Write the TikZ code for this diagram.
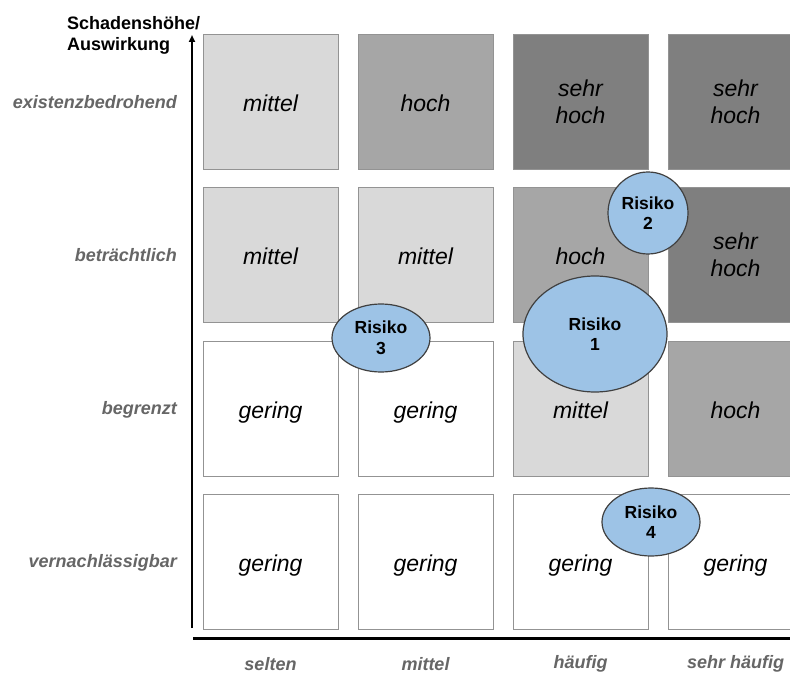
\documentclass[tikz,border=0pt]{standalone}
\usepackage{fontspec}
\setmainfont{Liberation Sans}
\usetikzlibrary{arrows.meta,shapes.geometric}

\definecolor{lvGering}{HTML}{FFFFFF}
\definecolor{lvMittel}{HTML}{D9D9D9}
\definecolor{lvHoch}{HTML}{A6A6A6}
\definecolor{lvSehrHoch}{HTML}{7F7F7F}
\definecolor{cellEdge}{HTML}{939393}
\definecolor{axisText}{HTML}{666666}
\definecolor{riskFill}{HTML}{9DC3E6}
\definecolor{riskEdge}{HTML}{404040}

\tikzset{
  cell/.style={rectangle, draw=cellEdge, line width=0.9pt,
    minimum width=135pt, minimum height=135pt, inner sep=0pt,
    align=center, font=\fontsize{23}{27}\selectfont\itshape},
  oneline/.style={text height=19pt, text depth=0pt},
  gering/.style={cell, oneline, fill=lvGering},
  mittel/.style={cell, oneline, fill=lvMittel},
  hoch/.style={cell, oneline, fill=lvHoch},
  sehrhoch/.style={cell, fill=lvSehrHoch},
  risk/.style={ellipse, draw=riskEdge, line width=1.2pt, fill=riskFill,
    inner sep=0pt, align=center,
    font=\fontsize{17.5}{20.5}\selectfont\bfseries},
  rowlabel/.style={anchor=east, text=axisText, inner sep=0pt,
    text height=13pt, text depth=0pt,
    font=\fontsize{18}{21}\selectfont\bfseries\itshape},
  collabel/.style={anchor=center, text=axisText, inner sep=0pt,
    font=\fontsize{18}{21}\selectfont\bfseries\itshape},
  axisline/.style={draw=black, line width=2pt},
}

\begin{document}
\begin{tikzpicture}[x=1pt,y=-1pt]
  \clip (0,0) rectangle (790,677);
  \fill[white] (0,0) rectangle (790,677);

  % risk matrix, rows from top (existenzbedrohend) to bottom
  \node[mittel]   (c11) at (270.5,101.5) {mittel};
  \node[hoch]     (c12) at (425.5,101.5) {hoch};
  \node[sehrhoch] (c13) at (580.5,101.5) {sehr\\hoch};
  \node[sehrhoch] (c14) at (735.5,101.5) {sehr\\hoch};

  \node[mittel]   (c21) at (270.5,254.5) {mittel};
  \node[mittel]   (c22) at (425.5,254.5) {mittel};
  \node[hoch]     (c23) at (580.5,254.5) {hoch};
  \node[sehrhoch] (c24) at (735.5,254.5) {sehr\\hoch};

  \node[gering]   (c31) at (270.5,408.5) {gering};
  \node[gering]   (c32) at (425.5,408.5) {gering};
  \node[mittel]   (c33) at (580.5,408.5) {mittel};
  \node[hoch]     (c34) at (735.5,408.5) {hoch};

  \node[gering]   (c41) at (270.5,561.5) {gering};
  \node[gering]   (c42) at (425.5,561.5) {gering};
  \node[gering]   (c43) at (580.5,561.5) {gering};
  \node[gering]   (c44) at (735.5,561.5) {gering};

  % axes
  \coordinate (yfoot) at (192,628);
  \coordinate (ytip)  at (192,35);
  \coordinate (xfoot) at (193,638.5);
  \coordinate (xend)  at (792,638.5);
  \draw[axisline, -{Triangle[length=7pt,width=6pt]}] (yfoot) -- (ytip);
  \draw[axisline, line width=2.4pt] (xfoot) -- (xend);

  \node[anchor=west, inner sep=0pt, align=left,
        font=\fontsize{18}{21}\selectfont\bfseries] (ytitle) at (67,35)
        {Schadenshöhe/\\Auswirkung};

  % row labels (impact)
  \node[rowlabel] (r1) at (177,102) {existenzbedrohend};
  \node[rowlabel] (r2) at (177,255) {beträchtlich};
  \node[rowlabel] (r3) at (177,408) {begrenzt};
  \node[rowlabel] (r4) at (177,561) {vernachlässigbar};

  % column labels (frequency)
  \node[collabel] (k1) at (270.5,664) {selten};
  \node[collabel] (k2) at (425.5,664) {mittel};
  \node[collabel] (k3) at (580.5,664) {häufig};
  \node[collabel] (k4) at (735.5,664) {sehr häufig};

  % risks
  \node[risk, minimum width=144pt, minimum height=116pt] (risk1) at (595,334) {Risiko\\1};
  \node[risk, minimum width=80pt,  minimum height=82pt]  (risk2) at (648,213) {Risiko\\2};
  \node[risk, minimum width=98pt,  minimum height=68pt]  (risk3) at (381,338) {Risiko\\3};
  \node[risk, minimum width=98pt,  minimum height=68pt]  (risk4) at (651,522) {Risiko\\4};
\end{tikzpicture}
\end{document}
